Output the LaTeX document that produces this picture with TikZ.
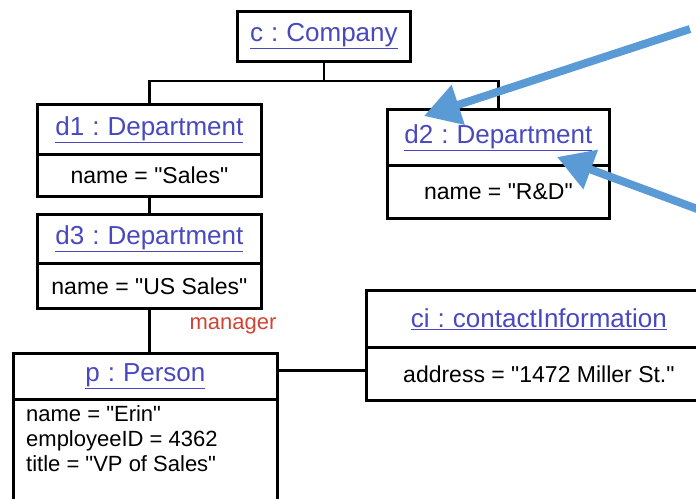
\documentclass[tikz,border=0pt]{standalone}
\usepackage{fontspec}
\setmainfont{Liberation Sans}[Ligatures=TeXOff]
\usetikzlibrary{arrows.meta,calc}
\definecolor{objblue}{HTML}{4848C0}
\definecolor{arrowblue}{HTML}{5B9BD5}
\definecolor{mgrred}{HTML}{D04434}
\newcommand{\objtitle}[2]{\underline{#1\hspace{8pt}:\hspace{8pt}#2}}
\newcommand{\q}{\char"22\relax}
\tikzset{
  x=1pt, y=-1pt,
  objbox/.style={draw=black, line width=2.8pt, rectangle, anchor=north west, inner sep=0pt},
  titlebox/.style={objbox, font=\fontsize{26}{30}\selectfont, text=objblue},
  attrbox/.style={objbox, font=\fontsize{23}{26}\selectfont, text=black},
  conn/.style={draw=black, line width=2.8pt},
  hint/.style={draw=arrowblue, line width=8pt, -{Triangle[length=36pt,width=40pt]}},
}
\begin{document}
\begin{tikzpicture}
\useasboundingbox (0,0) rectangle (696,498);
\clip (0,0) rectangle (696,498);
% company
\node[titlebox, minimum width=173pt, minimum height=50pt] (c) at (236,10) {\objtitle{c}{Company}};
% d1
\node[titlebox, minimum width=224pt, minimum height=50pt] (d1t) at (36,103) {\objtitle{d1}{Department}};
\node[attrbox, minimum width=224pt, minimum height=42pt] (d1a) at (36,153) {name = \q Sales\q};
% d2
\node[titlebox, minimum width=222pt, minimum height=56pt] (d2t) at (386,108) {\objtitle{d2}{Department}};
\node[attrbox, minimum width=222pt, minimum height=53pt] (d2a) at (386,164) {name = \q R\&D\q};
% d3
\node[titlebox, minimum width=224pt, minimum height=49pt] (d3t) at (36,213) {\objtitle{d3}{Department}};
\node[attrbox, minimum width=224pt, minimum height=45pt] (d3a) at (36,262) {name = \q US Sales\q};
% person
\node[titlebox, minimum width=264pt, minimum height=46pt] (pt) at (12,352) {\objtitle{p}{Person}};
\node[attrbox, minimum width=264pt, minimum height=130pt] (pa) at (12,398) {};
\node[anchor=north west, inner sep=0pt, align=left, font=\fontsize{22}{25}\selectfont] (ptext) at (26,405)
  {name = \q Erin\q\\employeeID = 4362\\title = \q VP of Sales\q};
% contact information
\node[titlebox, minimum width=345pt, minimum height=57pt] (cit) at (365,289) {\objtitle{ci}{contactInformation}};
\node[attrbox, minimum width=345pt, minimum height=53pt] (cia) at (365,346) {address = \q 1472 Miller St.\q};
% connectors
\coordinate (bus) at (0,81);
\draw[conn] (c.south) -- (c.south |- bus);
\draw[conn] (d1t.north) -- (d1t.north |- bus) -- (d2t.north |- bus) -- (d2t.north);
\draw[conn] (d1a.south) -- (d3t.north);
\draw[conn] (d3a.south) -- (d3a.south |- pt.north);
\node[text=mgrred, font=\fontsize{22}{25}\selectfont, inner sep=0pt] (mgr) at (233,326) {manager};
\coordinate (pe) at (276,370.5);
\draw[conn] (pe) -- (pe -| cia.west);
% blue hint arrows
\coordinate (a1s) at (690,29);
\coordinate (a1e) at (424,116);
\coordinate (a2s) at (700,210);
\coordinate (a2e) at (557,157);
\draw[hint] (a1s) -- (a1e);
\draw[hint] (a2s) -- (a2e);
\end{tikzpicture}
\end{document}
